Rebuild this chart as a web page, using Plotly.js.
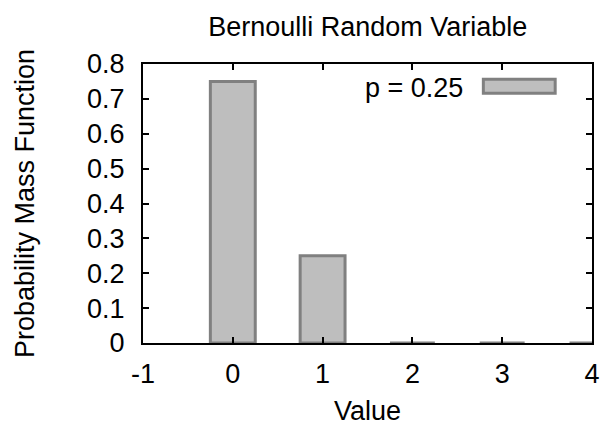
<!DOCTYPE html>
<html><head><meta charset="utf-8">
<script src="https://cdn.plot.ly/plotly-3.0.1.min.js"></script>
<style>body{margin:0;padding:0;background:#fff}#c{width:601px;height:428px}</style>
</head><body><div id="c"></div>
<script>
const values = [0, 1, 2, 3, 4];
const pmf = [0.75, 0.25, 0, 0, 0];
const seriesLabel = "p = 0.25";
const titleText = "Bernoulli Random Variable";
const xTitle = "Value";
const yTitle = "Probability Mass Function";
const xTicks = [-1, 0, 1, 2, 3, 4];
const yTicks = [0, 0.1, 0.2, 0.3, 0.4, 0.5, 0.6, 0.7, 0.8];

const font = {family: "Liberation Sans, Arial, sans-serif", color: "#000"};
const fs = 27;
const trace = {
  type: "bar", x: values, y: pmf, width: 0.5, name: seriesLabel,
  marker: {color: "#bebebe", line: {color: "#808080", width: 3}},
  showlegend: false, hoverinfo: "none"
};
const axisCommon = {
  showline: true, linecolor: "#000", linewidth: 2, mirror: "ticks",
  ticks: "inside", ticklen: 6, tickwidth: 2, tickcolor: "#000",
  showgrid: false, zeroline: false, tickfont: Object.assign({size: fs}, font)
};
const layout = {
  width: 601, height: 428,
  margin: {l: 143, r: 9, t: 64, b: 85},
  paper_bgcolor: "#fff", plot_bgcolor: "#fff",
  title: {text: titleText, font: Object.assign({size: fs}, font), x: 0.612, xanchor: "center", y: 0.937, yanchor: "middle"},
  xaxis: Object.assign({}, axisCommon, {range: [-1, 4], tickvals: xTicks, ticktext: xTicks.map(String),
    ticklabelstandoff: 6,
    title: {text: xTitle, font: Object.assign({size: fs}, font), standoff: 13}}),
  yaxis: Object.assign({}, axisCommon, {range: [0, 0.8], tickvals: yTicks, ticktext: yTicks.map(v => v === 0 ? "0" : String(v)),
    ticklabelstandoff: 11,
    title: {text: yTitle, font: Object.assign({size: fs}, font), standoff: 45}}),
  annotations: [{xref: "paper", yref: "paper", x: 0.718, y: 0.915, xanchor: "right", yanchor: "middle",
    text: seriesLabel, showarrow: false, font: Object.assign({size: fs}, font)}],
  shapes: [{type: "rect", xref: "paper", yref: "paper", x0: 0.758, x1: 0.918, y0: 0.895, y1: 0.945,
    fillcolor: "#bebebe", line: {color: "#808080", width: 3}}]
};
Plotly.newPlot("c", [trace], layout, {staticPlot: true});
</script></body></html>
